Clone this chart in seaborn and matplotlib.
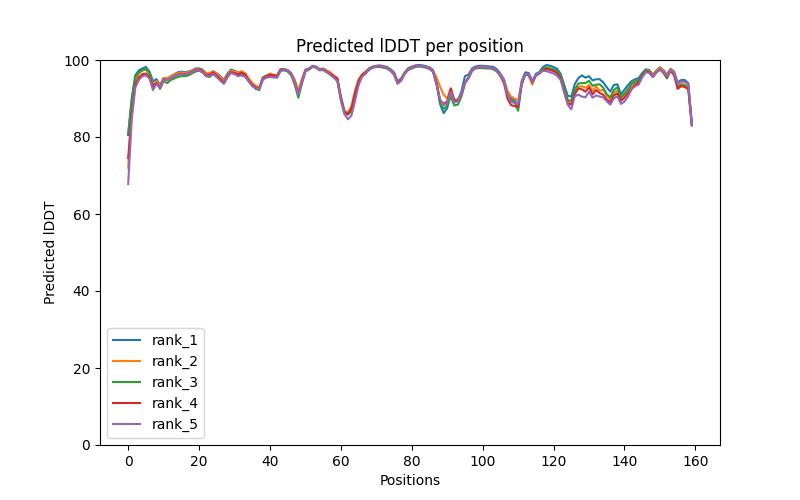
import numpy as np
import pandas as pd
import matplotlib
matplotlib.use("Agg")
import matplotlib.pyplot as plt
import seaborn as sns

# ─── Data ────────────────────────────────────────────────────────────────────
rank_names = ["rank_1", "rank_2", "rank_3", "rank_4", "rank_5"]

rank_1 = [
    80.5, 90.0, 96.0, 97.3, 97.8, 98.2, 97.0, 94.5, 95.0, 93.5,
    95.3, 95.0, 95.8, 96.3, 96.8, 97.0, 96.8, 97.0, 97.3, 97.8,
    97.8, 97.5, 96.5, 96.5, 97.1, 96.5, 95.8, 94.8, 96.5, 97.5,
    97.2, 96.8, 97.0, 96.5, 95.0, 94.0, 93.0, 92.8, 95.5, 96.0,
    96.2, 96.0, 96.0, 97.6, 97.6, 97.4, 96.6, 94.5, 91.5, 94.6,
    97.5, 97.8, 98.5, 98.3, 97.6, 97.8, 97.2, 96.5, 95.8, 95.0,
    90.0, 86.5, 86.0, 86.8, 91.0, 94.0, 96.0, 96.8, 97.9, 98.3,
    98.5, 98.6, 98.4, 98.2, 97.6, 96.8, 94.5, 95.2, 96.8, 97.9,
    98.3, 98.6, 98.7, 98.6, 98.4, 98.1, 97.4, 94.5, 88.5, 86.2,
    87.5, 91.5, 89.0, 89.5, 91.8, 95.8, 96.2, 97.8, 98.3, 98.5,
    98.5, 98.4, 98.3, 98.2, 97.6, 96.5, 95.0, 91.5, 90.0, 89.5,
    88.0, 94.5, 96.8, 96.6, 94.5, 96.4, 96.9, 98.2, 98.7, 98.5,
    98.2, 97.7, 96.4, 93.5, 90.7, 90.5, 93.8, 95.3, 96.0, 95.4,
    95.8, 94.7, 95.0, 95.0, 94.2, 92.9, 91.8, 93.5, 93.7, 91.1,
    92.3, 93.5, 94.5, 95.0, 95.3, 96.6, 97.6, 97.4, 96.2, 97.3,
    98.1, 97.4, 96.3, 97.7, 97.0, 94.2, 94.8, 94.8, 94.0, 83.5,
]

rank_2 = [
    72.0, 87.0, 94.5, 96.5, 97.2, 97.6, 96.5, 93.5, 94.5, 93.5,
    95.3, 95.3, 95.8, 96.2, 96.6, 96.8, 96.6, 96.8, 97.2, 97.6,
    97.6, 97.3, 96.6, 96.6, 97.0, 96.5, 95.6, 94.5, 96.2, 97.2,
    97.0, 96.8, 97.0, 96.6, 95.2, 94.0, 93.3, 93.0, 95.4, 95.8,
    96.5, 96.2, 96.0, 97.5, 97.5, 97.3, 96.5, 94.8, 92.0, 95.0,
    97.4, 97.7, 98.3, 98.2, 97.5, 97.7, 97.3, 96.8, 96.0, 95.3,
    90.5, 86.8, 86.3, 88.0, 92.0, 95.0, 96.3, 97.0, 97.8, 98.2,
    98.3, 98.5, 98.2, 98.0, 97.4, 96.5, 94.2, 95.0, 96.6, 97.7,
    98.2, 98.5, 98.5, 98.4, 98.2, 97.9, 97.2, 95.5, 93.0, 91.0,
    90.0, 92.6, 89.5, 89.8, 91.0, 94.2, 95.5, 97.4, 98.0, 98.2,
    98.3, 98.2, 98.0, 97.8, 97.3, 96.2, 94.8, 92.0, 90.5, 90.0,
    89.5, 94.0, 96.4, 96.0, 93.6, 96.0, 96.6, 97.6, 98.0, 97.8,
    97.5, 97.0, 95.8, 92.5, 89.5, 89.0, 91.8, 93.0, 93.2, 92.8,
    93.5, 92.0, 93.2, 92.0, 92.3, 90.8, 89.8, 91.5, 92.0, 90.0,
    90.8, 92.0, 93.5, 94.2, 94.6, 96.0, 97.3, 97.2, 96.0, 97.2,
    98.0, 97.3, 96.2, 97.6, 96.8, 93.2, 93.8, 93.6, 93.2, 83.2,
]

rank_3 = [
    80.8, 89.5, 95.5, 96.8, 97.4, 97.6, 96.5, 93.3, 94.0, 92.5,
    94.5, 94.0, 94.8, 95.2, 95.6, 95.8, 95.8, 96.0, 96.5, 97.0,
    97.2, 96.8, 95.8, 95.6, 96.3, 95.6, 94.8, 94.0, 95.8, 96.8,
    96.5, 96.0, 96.3, 96.0, 94.5, 93.5, 92.5, 92.2, 95.0, 95.5,
    95.8, 95.6, 95.5, 97.2, 97.3, 97.0, 96.0, 93.5, 90.2, 93.8,
    97.0, 97.5, 98.2, 98.0, 97.3, 97.4, 96.8, 96.2, 95.5, 94.6,
    89.5, 86.0, 85.8, 86.8, 90.8, 94.0, 95.8, 96.5, 97.5, 98.0,
    98.2, 98.2, 98.0, 97.8, 97.2, 96.3, 94.0, 94.8, 96.4, 97.4,
    97.8, 98.2, 98.3, 98.2, 98.0, 97.7, 97.0, 94.0, 88.8, 87.3,
    88.2, 90.5, 88.2, 88.4, 90.5, 94.0, 95.3, 97.2, 97.8, 97.9,
    97.9, 97.8, 97.8, 97.6, 97.0, 96.0, 94.6, 91.0, 89.5, 89.0,
    86.8, 93.5, 96.2, 96.0, 94.3, 96.0, 96.5, 97.6, 98.1, 97.8,
    97.6, 97.1, 95.8, 92.8, 89.5, 89.5, 92.3, 93.9, 94.0, 94.0,
    94.6, 93.3, 93.6, 93.7, 92.8, 91.1, 90.3, 92.2, 92.9, 90.3,
    91.3, 92.5, 93.8, 94.4, 94.8, 96.2, 97.2, 97.0, 95.7, 96.8,
    97.6, 96.6, 95.2, 97.3, 96.6, 93.0, 93.5, 93.4, 92.8, 83.3,
]

rank_4 = [
    74.5, 86.0, 93.5, 95.5, 96.3, 96.5, 95.6, 93.0, 94.0, 93.0,
    95.0, 94.8, 95.3, 95.8, 96.2, 96.4, 96.3, 96.5, 96.9, 97.4,
    97.5, 97.0, 96.0, 96.2, 96.7, 96.0, 95.0, 94.0, 95.8, 96.8,
    96.6, 96.3, 96.7, 96.2, 94.6, 93.5, 92.8, 92.6, 95.2, 95.7,
    96.2, 96.0, 95.8, 97.5, 97.5, 97.2, 96.3, 94.2, 91.2, 94.4,
    97.3, 97.7, 98.3, 98.1, 97.5, 97.6, 97.0, 96.5, 95.8, 95.2,
    90.4, 86.6, 86.0, 87.5, 91.5, 94.6, 96.2, 96.8, 97.7, 98.1,
    98.3, 98.4, 98.1, 97.9, 97.3, 96.3, 94.0, 94.8, 96.5, 97.6,
    98.0, 98.4, 98.5, 98.4, 98.1, 97.8, 97.0, 93.5, 89.5, 88.6,
    89.2, 92.6, 89.5, 89.5, 91.0, 94.0, 95.3, 97.3, 97.9, 98.1,
    98.2, 98.1, 98.0, 97.8, 97.2, 95.8, 94.0, 90.0, 88.3, 88.0,
    87.8, 93.8, 96.3, 96.2, 94.2, 96.0, 96.5, 97.3, 97.7, 97.4,
    97.1, 96.6, 95.2, 91.8, 88.8, 88.4, 91.2, 92.6, 92.4, 91.8,
    92.9, 91.1, 92.2, 91.4, 91.0, 89.8, 89.0, 90.8, 91.3, 89.4,
    90.2, 91.4, 92.6, 93.6, 94.2, 95.8, 97.0, 96.8, 95.6, 96.8,
    97.6, 96.8, 95.6, 97.2, 96.0, 92.5, 93.2, 93.0, 92.4, 83.0,
]

rank_5 = [
    67.8, 84.5, 92.8, 94.8, 95.8, 96.0, 95.2, 92.2, 93.8, 92.8,
    94.8, 94.8, 95.3, 95.8, 96.2, 96.3, 96.2, 96.5, 96.8, 97.3,
    97.3, 96.8, 95.8, 95.8, 96.4, 95.6, 94.6, 93.8, 95.5, 96.6,
    96.3, 95.8, 96.0, 95.6, 94.4, 93.2, 92.6, 92.5, 95.0, 95.4,
    95.6, 95.5, 95.4, 97.2, 97.4, 97.2, 96.3, 94.0, 91.0, 94.2,
    97.2, 97.7, 98.3, 98.2, 97.4, 97.6, 96.9, 96.2, 95.4, 94.6,
    89.8, 86.0, 84.6, 85.6, 89.4, 93.5, 95.7, 96.5, 97.6, 98.1,
    98.3, 98.4, 98.2, 97.9, 97.2, 96.2, 93.8, 94.6, 96.4, 97.6,
    98.0, 98.4, 98.5, 98.4, 98.2, 97.9, 97.0, 93.8, 89.8, 88.3,
    88.8, 91.7, 89.0, 89.3, 91.2, 94.2, 95.4, 97.4, 97.9, 98.1,
    98.2, 98.1, 98.0, 97.8, 97.2, 96.0, 94.5, 91.0, 89.2, 88.8,
    88.5, 94.0, 96.4, 96.2, 94.3, 96.1, 96.6, 97.2, 97.1, 96.8,
    96.5, 95.9, 94.8, 91.5, 88.4, 87.2, 90.6, 91.0, 90.5, 90.3,
    91.8, 90.2, 90.8, 90.5, 90.3, 89.3, 88.4, 90.0, 90.6, 88.6,
    89.2, 90.5, 92.4, 93.2, 93.6, 95.5, 96.8, 96.6, 95.6, 96.8,
    97.5, 96.9, 95.8, 97.3, 96.6, 93.8, 94.4, 94.3, 93.8, 83.2,
]

rank_values = [rank_1, rank_2, rank_3, rank_4, rank_5]
positions = np.arange(len(rank_1))


# ─── Plot ────────────────────────────────────────────────────────────────────
def main():
    fig, ax = plt.subplots(figsize=(8, 5), dpi=100)
    palette = sns.color_palette("tab10", len(rank_names))

    for name, vals, color in zip(rank_names, rank_values, palette):
        df = pd.DataFrame({"Positions": positions, "Predicted lDDT": vals})
        sns.lineplot(data=df, x="Positions", y="Predicted lDDT",
                     ax=ax, color=color, label=name, linewidth=1.5)

    ax.set_title("Predicted lDDT per position")
    ax.set_xlabel("Positions")
    ax.set_ylabel("Predicted lDDT")
    ax.set_ylim(0, 100)
    ax.legend(loc="lower left")

    plt.savefig("out.png", dpi=100)
    plt.close()


if __name__ == "__main__":
    main()
